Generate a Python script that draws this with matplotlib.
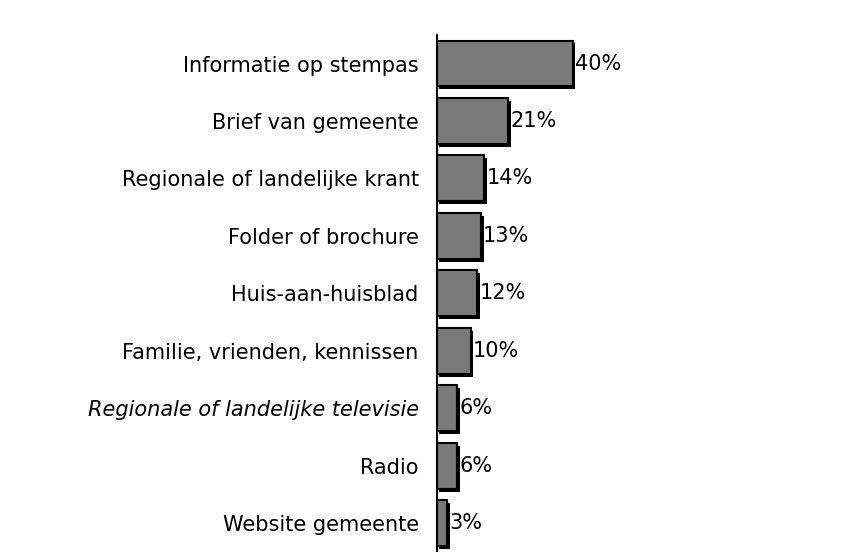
import matplotlib.pyplot as plt
import matplotlib.patheffects as pe

# Bronnen van informatie over de verkiezingen (percentages)
categories = ['Informatie op stempas', 'Brief van gemeente', 'Regionale of landelijke krant',
              'Folder of brochure', 'Huis-aan-huisblad', 'Familie, vrienden, kennissen',
              'Regionale of landelijke televisie', 'Radio', 'Website gemeente']
values = [40, 21, 14, 13, 12, 10, 6, 6, 3]
value_labels = ['40%', '21%', '14%', '13%', '12%', '10%', '6%', '6%', '3%']

fig = plt.figure(figsize=(8.58, 5.52), dpi=100)
ax = fig.add_axes([0.509, 0.0, 0.491, 0.937])

ypos = list(range(len(categories)))
bars = ax.barh(ypos, values, height=0.8, color='#7a7a7a', edgecolor='black', linewidth=1.5)
for b in bars:
    b.set_path_effects([pe.SimplePatchShadow(offset=(2, -2), shadow_rgbFace='black', alpha=1.0),
                        pe.Normal()])

for y, v, lab in zip(ypos, values, value_labels):
    ax.text(v + 0.6, y, lab, va='center', ha='left', fontsize=15)

ax.set_xlim(0, 124)
ax.set_ylim(8.5, -0.5)
ax.set_yticks(ypos)
ax.set_yticklabels(categories, fontsize=15)
ax.tick_params(axis='y', length=0, pad=13)
ax.set_xticks([])
for s in ['top', 'right', 'bottom']:
    ax.spines[s].set_visible(False)
ax.spines['left'].set_linewidth(1.5)

# italic label as in the original
ax.get_yticklabels()[6].set_style('italic')

fig.savefig('out.png', dpi=100)
